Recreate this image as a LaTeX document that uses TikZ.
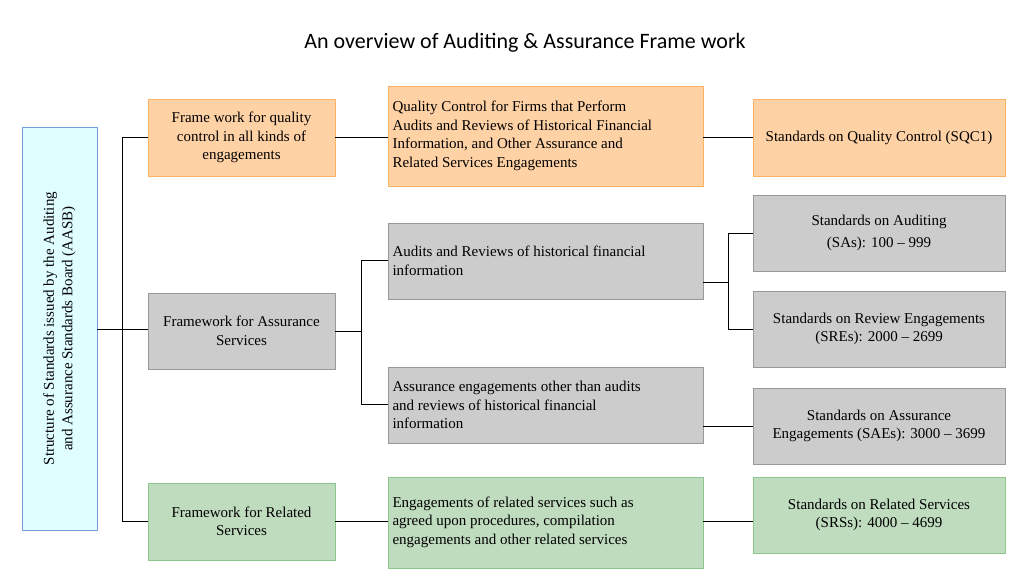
\documentclass[tikz,border=0pt]{standalone}
\usepackage{fontspec}
\setmainfont{Liberation Serif}
\newfontfamily\titlefont{Carlito}
\begin{document}
\begin{tikzpicture}[x=1pt,y=-1pt,
 box/.style={draw, line width=0.8pt, inner sep=0pt},
 org/.style={box, fill=orange!35!white, draw=orange!60!white},
 gry/.style={box, fill=black!20, draw=black!40},
 grn/.style={box, fill=green!45!black!25!white, draw=green!50!black!45},
 blu/.style={box, fill=blue!8!cyan!12, draw=cyan!50!blue!55},
 t/.style={font=\fontsize{15}{18.5}\selectfont, align=center},
 tl/.style={font=\fontsize{15}{18.5}\selectfont, align=left},
 ln/.style={line width=0.9pt}]
\useasboundingbox (0,0) rectangle (1024,575);
\node[font=\titlefont\fontsize{22}{26}\selectfont] (title) at (525,43) {An overview of Auditing \& Assurance Frame work};
\draw[blu] (22,127) rectangle (97,530);
\node[t, rotate=90] (V) at (59.5,328.5) {Structure of Standards issued by the Auditing\\and Assurance Standards Board (AASB)};
\coordinate (Vr) at (97,329);
\draw[org] (148,99) rectangle (335,176);
\node[t] (A) at (241.5,137.5) {Frame work for quality\\control in all kinds of\\engagements};
\draw[org] (388,86) rectangle (703,186);
\node[tl, anchor=west] (B) at (389,136) {Quality Control for Firms that Perform\\Audits and Reviews of Historical Financial\\Information, and Other Assurance and\\Related Services Engagements};
\draw[org] (753,99) rectangle (1005,176);
\node[t] (C) at (879,137.5) {Standards on Quality Control (SQC1)};
\draw[gry] (148,293) rectangle (335,369);
\node[t] (D) at (241.5,331) {Framework for Assurance\\Services};
\draw[gry] (388,223) rectangle (703,299);
\node[tl, anchor=west] (E) at (389,261) {Audits and Reviews of historical financial\\information};
\draw[gry] (388,367) rectangle (703,443);
\node[tl, anchor=west] (F) at (389,405) {Assurance engagements other than audits\\and reviews of historical financial\\information};
\draw[gry] (753,195) rectangle (1005,271);
\node[t] (G) at (879,233) {Standards on Auditing\\[4pt](SAs): 100 -- 999};
\draw[gry] (753,291) rectangle (1005,367);
\node[t] (H) at (879,329) {Standards on Review Engagements\\(SREs): 2000 -- 2699};
\draw[gry] (753,388) rectangle (1005,464);
\node[t] (I) at (879,426) {Standards on Assurance\\Engagements (SAEs): 3000 -- 3699};
\draw[grn] (148,483) rectangle (335,560);
\node[t] (J) at (241.5,521.5) {Framework for Related\\Services};
\draw[grn] (388,477) rectangle (703,568);
\node[tl, anchor=west] (K) at (389,522) {Engagements of related services such as\\agreed upon procedures, compilation\\engagements and other related services};
\draw[grn] (753,477) rectangle (1005,553);
\node[t] (L) at (879,515) {Standards on Related Services\\(SRSs): 4000 -- 4699};
\coordinate (j1) at (122,329);
\draw[ln] (Vr) -- (j1);
\draw[ln] (148,137) -| (122,521) -- (148,521);
\draw[ln] (j1) -- (148,329);
\draw[ln] (335,137) -- (388,137);
\draw[ln] (703,137) -- (753,137);
\draw[ln] (335,331) -- (361,331);
\draw[ln] (388,260) -| (361,404) -- (388,404);
\draw[ln] (703,282) -- (728,282);
\draw[ln] (753,233) -| (728,329) -- (753,329);
\draw[ln] (703,426) -- (753,426);
\draw[ln] (335,521) -- (388,521);
\draw[ln] (703,521) -- (753,521);
\end{tikzpicture}
\end{document}
